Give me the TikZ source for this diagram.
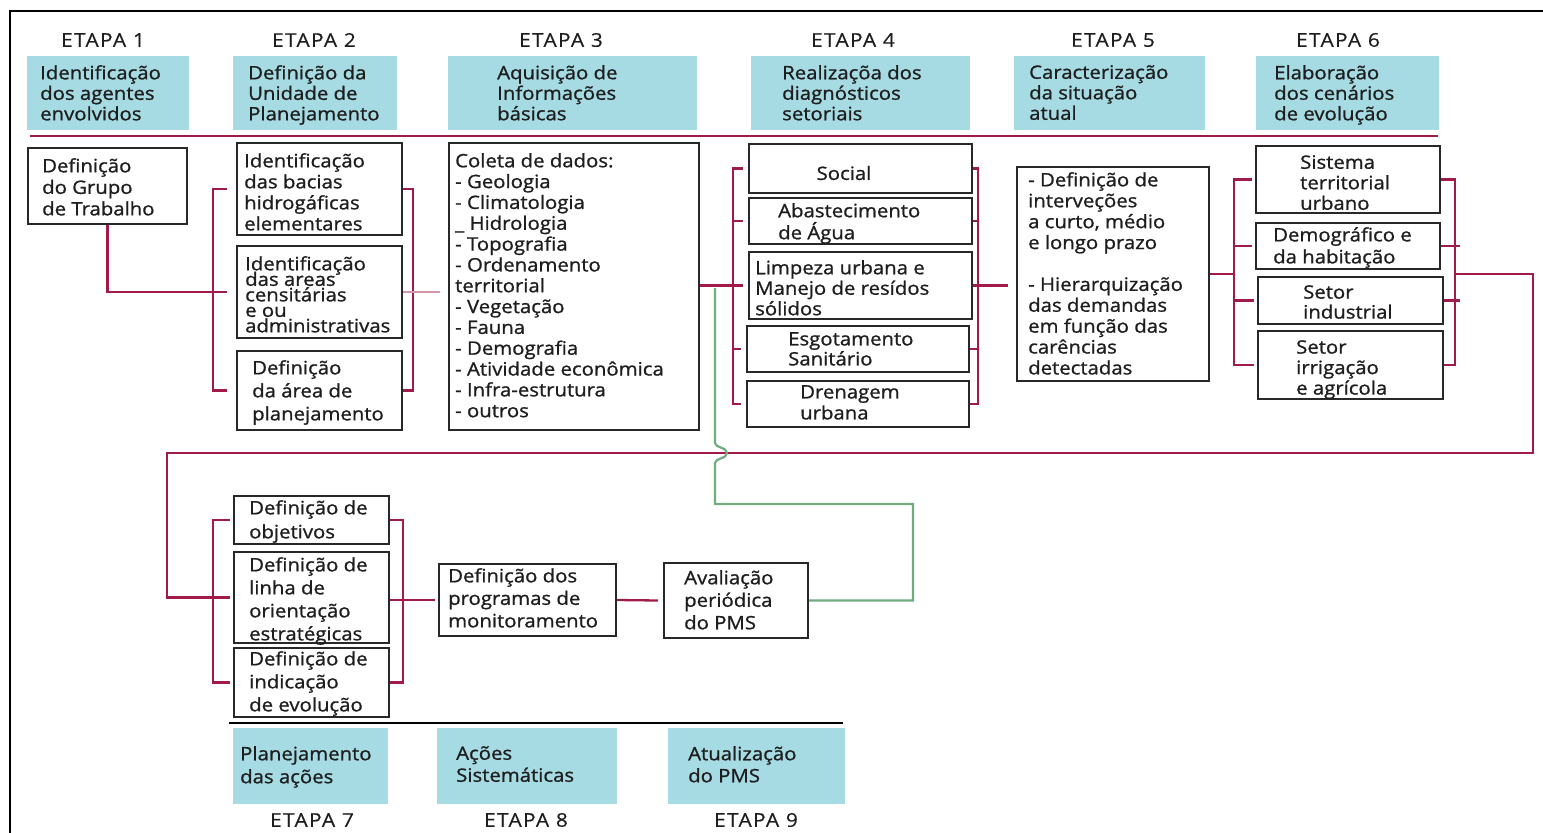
\documentclass[tikz,border=0pt]{standalone}
\usepackage{fontspec}
\setmainfont{Open Sans}[FakeStretch=1.1,FakeBold=1.0]
\newfontfamily\etapafont{Open Sans}[FakeStretch=1.1,LetterSpace=7,FakeBold=0.4]
\usetikzlibrary{calc}
\definecolor{tealc}{RGB}{166,219,227}
\definecolor{redc}{RGB}{160,28,70}
\definecolor{pinkc}{RGB}{212,150,166}
\definecolor{greenc}{RGB}{112,172,128}
\definecolor{boxc}{RGB}{40,40,40}
\definecolor{txtc}{RGB}{30,30,30}
\newcommand\mkbox[6][box]{\node[#1, minimum width={#5-#3}, minimum height={#6-#4}] (#2) at ({(#3+#5)/2},{(#4+#6)/2}) {};}
\tikzset{
  box/.style={draw=boxc, line width=2.3pt, fill=white, inner sep=0pt},
  tealbox/.style={fill=tealc, draw=none, inner sep=0pt},
  txt/.style={anchor=north west, inner sep=0pt, align=left, text=txtc, yshift=-4.5pt,
    font=\fontsize{18.5}{#1}\selectfont, execute at begin node={\lineskiplimit=-30pt\rule{0pt}{22pt}}},
  txt/.default=20.8,
  ctxt/.style={anchor=center, inner sep=0pt, text=txtc, font=\fontsize{18.5}{20.8}\selectfont},
  etapa/.style={anchor=center, inner sep=0pt, text=txtc, font=\etapafont\fontsize{19}{21}\selectfont},
  lnk/.style={draw=redc, line width=2.3pt},
  lite/.style={draw=pinkc, line width=2.3pt},
  grn/.style={draw=greenc, line width=2.2pt},
}
\begin{document}
\begin{tikzpicture}[x=1pt,y=-1pt]
\useasboundingbox (0,0) rectangle (1543,833);
\fill[white] (0,0) rectangle (1543,833);
% frame
\draw[line width=2.5pt, black] (10,833) -- (10,11) -- (1543,11);

% ETAPA labels
\node[etapa] (h1) at (103,40) {ETAPA 1};
\node[etapa] (h2) at (314,40) {ETAPA 2};
\node[etapa] (h3) at (561,40) {ETAPA 3};
\node[etapa] (h4) at (853,40) {ETAPA 4};
\node[etapa] (h5) at (1113,40) {ETAPA 5};
\node[etapa] (h6) at (1338,40) {ETAPA 6};
\node[etapa] (h7) at (312,820) {ETAPA 7};
\node[etapa] (h8) at (526,820) {ETAPA 8};
\node[etapa] (h9) at (756,820) {ETAPA 9};

% teal header boxes
\mkbox[tealbox]{s1}{27}{56}{189}{130}
\mkbox[tealbox]{s2}{233}{56}{397}{130}
\mkbox[tealbox]{s3}{448}{56}{697}{130}
\mkbox[tealbox]{s4}{751}{56}{970}{130}
\mkbox[tealbox]{s5}{1014}{56}{1205}{130}
\mkbox[tealbox]{s6}{1256}{56}{1439}{130}
\mkbox[tealbox]{s7}{233}{728}{388}{804}
\mkbox[tealbox]{s8}{437}{728}{617}{804}
\mkbox[tealbox]{s9}{668}{728}{845}{804}
\node[txt=20.5] (ts1) at (40,60.5) {Identificação\\dos agentes\\envolvidos};
\node[txt=20.5] (ts2) at (248,60.5) {Definição da\\Unidade de\\Planejamento};
\node[txt=20.5] (ts3) at (497,60.5) {Aquisição de\\Informações\\básicas};
\node[txt=20.5] (ts4) at (782,60.5) {Realizaçõa dos\\diagnósticos\\setoriais};
\node[txt=20.5] (ts5) at (1029,60.5) {Caracterização\\da situação\\atual};
\node[txt=20.5] (ts6) at (1274,60.5) {Elaboração\\dos cenários\\de evolução};
\node[txt=23] (ts7) at (240,741.5) {Planejamento\\das ações};
\node[txt=22] (ts8) at (456,741.5) {Ações\\Sistemáticas};
\node[txt=22] (ts9) at (688,741.5) {Atualização\\do PMS};

% separators
\draw[lnk] (30,136) -- (1438,136);
\draw[line width=2.2pt, black] (229,723) -- (843,723);

% boxes
\mkbox{e1}{28}{148}{187}{224}
\mkbox{e2a}{237}{143}{402}{235}
\mkbox{e2b}{237}{246}{402}{338}
\mkbox{e2c}{237}{351}{402}{430}
\mkbox{e3}{449}{143}{699}{430}
\mkbox{e4a}{749}{144}{972}{193}
\mkbox{e4b}{749}{198}{972}{244}
\mkbox{e4c}{749}{252}{972}{319}
\mkbox{e4d}{747}{326}{969}{372}
\mkbox{e4e}{747}{381}{969}{427}
\mkbox{e5}{1017}{167}{1209}{381}
\mkbox{e6a}{1256}{146}{1440}{213}
\mkbox{e6b}{1256}{223}{1440}{269}
\mkbox{e6c}{1258}{277}{1443}{324}
\mkbox{e6d}{1258}{331}{1443}{399}
\mkbox{e7a}{234}{496}{389}{544}
\mkbox{e7b}{234}{552}{389}{643}
\mkbox{e7c}{234}{648}{389}{717}
\mkbox{prog}{439}{564}{616}{636}
\mkbox{aval}{664}{563}{808}{638}

% box texts
\node[txt=21.5] (te1) at (42,153.5) {Definição\\do Grupo\\de Trabalho};
\node[txt=21] (te2a) at (244,148.5) {Identificação\\das bacias\\hidrogáficas\\elementares};
\node[txt=15.5] (te2b) at (245,251.5) {Identificação\\das areas\\censitárias\\e ou\\administrativas};
\node[txt=23] (te2c) at (252,355.5) {Definição\\da área de\\planejamento};
\node[txt=20.83] (te3) at (455,148.5) {Coleta de dados:\\- Geologia\\- Climatologia\\\_ Hidrologia\\- Topografia\\- Ordenamento\\territorial\\- Vegetação\\- Fauna\\- Demografia\\- Atividade econômica\\- Infra-estrutura\\- outros};
\node[ctxt] (te4a) at (844,173) {Social};
\node[txt=22] (te4b) at (778,198.5) {Abastecimento\\de Água};
\node[txt=20.5] (te4c) at (755,255.5) {Limpeza urbana e\\Manejo de resídos\\sólidos};
\node[txt=20] (te4d) at (788,327.5) {Esgotamento\\Sanitário};
\node[txt=21] (te4e) at (800,380.5) {Drenagem\\urbana};
\node[txt=20.9] (te5) at (1028,167.5) {- Definição de\\interveções\\a curto, médio\\e longo prazo\\\mbox{}\\- Hierarquização\\das demandas\\em função das\\carências\\detectadas};
\node[txt=20.5] (te6a) at (1300,150.5) {Sistema\\territorial\\urbano};
\node[txt=22] (te6b) at (1273,222.5) {Demográfico e\\da habitação};
\node[txt=20] (te6c) at (1303,280.5) {Setor\\industrial};
\node[txt=20.5] (te6d) at (1296,335.5) {Setor\\irrigação\\e agrícola};
\node[txt=24] (te7a) at (249,495.5) {Definição de\\objetivos};
\node[txt=23] (te7b) at (249,552.5) {Definição de\\linha de\\orientação\\estratégicas};
\node[txt=23] (te7c) at (249,646.5) {Definição de\\indicação\\de evolução};
\node[txt=22.5] (tprog) at (448,563.5) {Definição dos\\programas de\\monitoramento};
\node[txt=22.5] (taval) at (684,565.5) {Avaliação\\periódica\\do PMS};

% bracket columns
\coordinate (b2l) at (213,0); \coordinate (b2r) at (413,0);
\coordinate (b4l) at (733,0); \coordinate (b4r) at (978,0);
\coordinate (b6l) at (1234,0); \coordinate (b6r) at (1455,0);
\coordinate (b7l) at (213,0); \coordinate (b7r) at (403,0);

% etapa 1 -> 2
\draw[lnk] (e1.south) |- ($(e2b.west)+(-9,0)$);
\draw[lnk] ($(e2a.west)+(-9,0)$) -- (e2a.west -| b2l) -- (e2c.west -| b2l) -- ($(e2c.west)+(-9,0)$);
\draw[lnk] (e2a.east) -- (e2a.east -| b2r) -- (e2c.east -| b2r) -- (e2c.east);
% etapa 2 -> 3
\draw[lite] (e2b.east) -- ($(e3.west |- e2b.east)+(-8,0)$);
% etapa 3 -> 4
\draw[lnk] (e3.east |- e4c.west) -- ($(e4c.west)+(-5,0)$);
\draw[lnk] ($(e4a.west)+(-5,0)$) -- (e4a.west -| b4l) -- (e4e.west -| b4l) -- ($(e4e.west)+(-5,0)$);
\foreach \n in {e4b,e4d} \draw[lnk] (\n.west -| b4l) -- ($(\n.west)+(-5,0)$);
\draw[lnk] (e4a.east) -- (e4a.east -| b4r) -- (e4e.east -| b4r) -- (e4e.east);
\foreach \n in {e4b,e4d} \draw[lnk] (\n.east) -- (\n.east -| b4r);
% etapa 4 -> 5
\draw[lnk] (e4c.east) -- ($(e5.west |- e4c.east)+(-8,0)$);
% etapa 5 -> 6
\draw[lnk] (e5.east) -- (e5.east -| b6l);
\draw[lnk] ($(e6a.west)+(-3,0)$) -- (e6a.west -| b6l) -- (e6d.west -| b6l) -- ($(e6d.west)+(-3,0)$);
\foreach \n in {e6b,e6c} \draw[lnk] (\n.west -| b6l) -- ($(\n.west)+(-3,0)$);
\draw[lnk] (e6a.east) -- (e6a.east -| b6r) -- (e6d.east -| b6r) -- (e6d.east);
\foreach \n in {e6b,e6c} \draw[lnk] (\n.east) -- ($(\n.east -| b6r)+(5,0)$);
% loop etapa 6 -> 7
\coordinate (lr) at (1533,453); \coordinate (ll) at (167,453);
\draw[lnk] (e5.east -| b6r) -- (e5.east -| lr) -- (lr) -- (ll) -- (ll |- e7b.west) -- ($(e7b.west)+(-3,0)$);
% etapa 7
\draw[lnk] ($(e7a.west)+(-3,0)$) -- (e7a.west -| b7l) -- (e7c.west -| b7l) -- ($(e7c.west)+(-3,0)$);
\draw[lnk] (e7a.east) -- (e7a.east -| b7r) -- (e7c.east -| b7r) -- (e7c.east);
\draw[lnk] (e7b.east |- prog.west) -- ($(prog.west)+(-3,0)$);
\draw[lnk] (prog.east) -- ($(aval.west)+(-5,0)$);
% green feedback
\coordinate (gs) at (715,288);
\coordinate (ga) at (715,443);
\coordinate (gb) at (715,463);
\coordinate (gc) at (715,504);
\coordinate (gd) at (913,504);
\draw[grn] (gs) -- (ga) .. controls (715,448) and (727,447) .. (727,453) .. controls (727,459) and (715,458) .. (gb) -- (gc) -- (gd) |- (aval.east);
\end{tikzpicture}
\end{document}
